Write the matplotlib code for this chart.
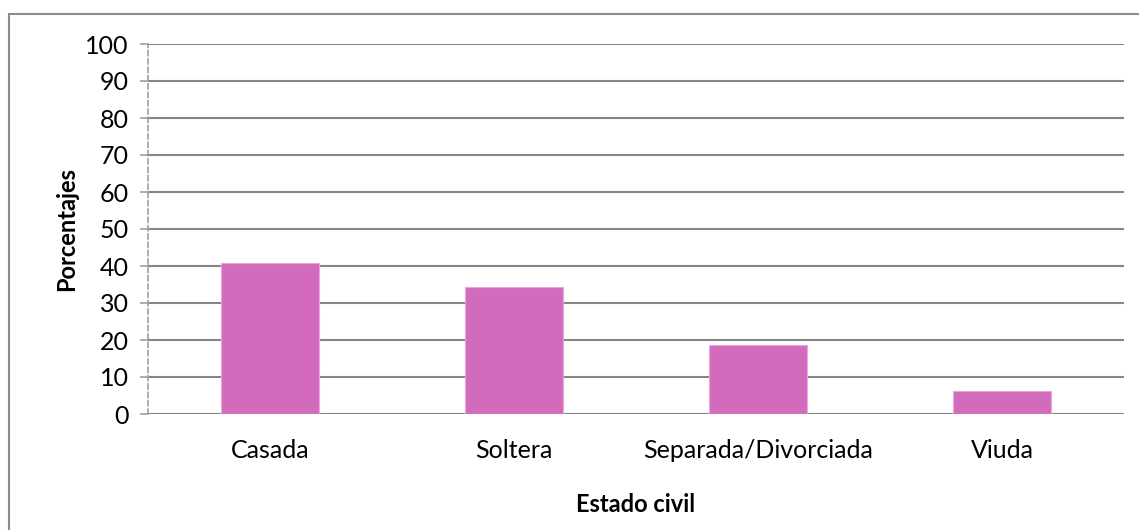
import numpy as np
import matplotlib.pyplot as plt
from matplotlib.patches import Rectangle

# Estado civil data (percentages)
categorias = ["Casada", "Soltera", "Separada/Divorciada", "Viuda"]
porcentajes = [40.7, 34.3, 18.7, 6.2]
y_ticks = list(range(0, 101, 10))

W, H = 1139, 530
plt.rcParams['font.family'] = ['Lato', 'DejaVu Sans']
fig = plt.figure(figsize=(W / 100, H / 100), dpi=100)

# outer chart border (cut by the image on the right/bottom)
fig.patches.append(Rectangle((9 / W, -0.05), 1.2, (H - 14) / H + 0.05, transform=fig.transFigure,
                             fill=False, edgecolor='#8c8c8c', linewidth=1.5))

ax = fig.add_axes([148 / W, (H - 414) / H, (1124 - 148) / W, (414 - 44) / H])
x = np.arange(len(categorias))
ax.bar(x, porcentajes, width=0.40, color='#D36BBD', edgecolor='#E8A6DC', linewidth=0.8, zorder=3)

ax.set_xlim(-0.5, len(categorias) - 0.5)
ax.set_ylim(0, 100)
ax.set_yticks(y_ticks)
ax.yaxis.grid(True, color='#868686', linewidth=1.5, zorder=0)
for s in ['top', 'right', 'bottom']:
    ax.spines[s].set_visible(False)
ax.spines['left'].set_linestyle((0, (3, 2)))
ax.spines['left'].set_color('#a0a0a0')
ax.spines['left'].set_linewidth(1.2)
ax.tick_params(axis='y', length=6, width=1.2, color='#a0a0a0', labelsize=18, pad=8)
ax.tick_params(axis='x', length=0, labelsize=18, pad=18)
ax.set_xticks(x)
ax.set_xticklabels(categorias)

ax.set_ylabel('Porcentajes', fontsize=17, fontweight='bold', labelpad=5)
ax.set_xlabel('Estado civil', fontsize=17, fontweight='bold', labelpad=22)

fig.savefig('out.png', dpi=100)
